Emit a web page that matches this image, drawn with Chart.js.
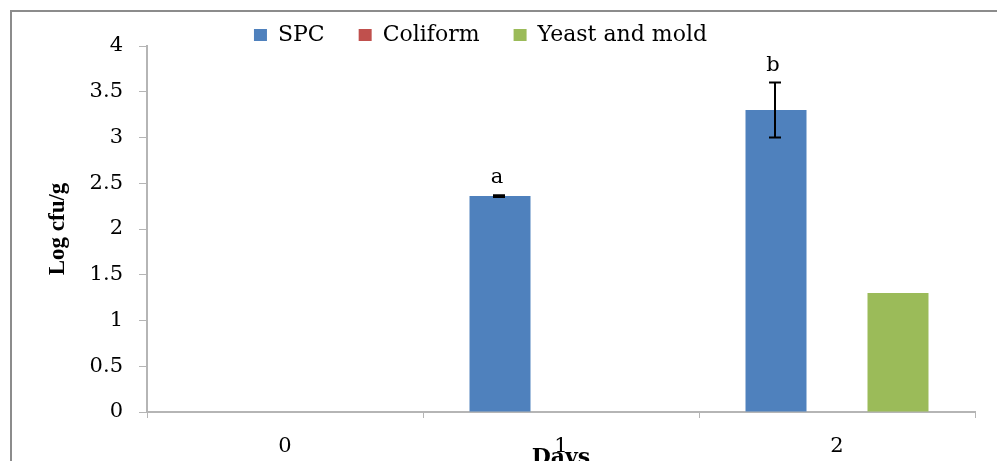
<!DOCTYPE html>
<html>
<head>
<meta charset="utf-8">
<script src="https://cdn.jsdelivr.net/npm/chart.js@4/dist/chart.umd.min.js"></script>
<style>
  html, body { margin: 0; padding: 0; background: #ffffff; overflow: hidden; }
  #wrap { width: 997px; height: 461px; position: relative; overflow: hidden; }
  #c { display: block; position: absolute; left: 0; top: 0; }
  #frame { position: absolute; left: 10px; top: 10px; width: 1100px; height: 600px;
           border-left: 2px solid #8c8c8c; border-top: 2px solid #8c8c8c; pointer-events: none; }
</style>
</head>
<body>
<div id="wrap"><canvas id="c" width="997" height="461"></canvas><div id="frame"></div></div>
<script>
// ---- data ----
const categories = ['0', '1', '2'];
const seriesNames = ['SPC', 'Coliform', 'Yeast and mold'];
const spcValues = [0, 2.36, 3.3];
const coliformValues = [0, 0, 0];
const yeastValues = [0, 0, 1.3];
const spcErrors = [0, 0.01, 0.3];
const spcLetters = ['', 'a', 'b'];
const yTicks = [0, 0.5, 1, 1.5, 2, 2.5, 3, 3.5, 4];
const yTickLabels = ['0', '0.5', '1', '1.5', '2', '2.5', '3', '3.5', '4'];
const yTitle = 'Log cfu/g';
const xTitle = 'Days';

const SERIF = '"DejaVu Serif", "Liberation Serif", serif';

const legendFix = {
  id: 'legendFix',
  beforeLayout(chart) {
    const lg = chart.legend;
    if (lg && !lg._patched) {
      const f = lg.fit.bind(lg);
      lg.fit = function () { f(); this.height = 46; };
      lg._patched = true;
    }
  },
  afterLayout(chart) {
    const lg = chart.legend;
    if (lg) {
      lg.left -= 7; lg.right -= 7;
      lg.top -= 10;
    }
  }
};

const errorBars = {
  id: 'errorBars',
  afterDatasetsDraw(chart) {
    const ctx = chart.ctx;
    const meta = chart.getDatasetMeta(0);
    const ys = chart.scales.y;
    ctx.save();
    ctx.strokeStyle = '#000000';
    ctx.fillStyle = '#000000';
    ctx.lineWidth = 2;
    meta.data.forEach((bar, i) => {
      const v = spcValues[i];
      const e = spcErrors[i];
      if (e > 0) {
        const x = Math.round(bar.x) - 1;
        const yTop = ys.getPixelForValue(v + e);
        const yBot = ys.getPixelForValue(v - e);
        ctx.beginPath();
        ctx.moveTo(x, yTop); ctx.lineTo(x, yBot);
        ctx.moveTo(x - 6, yTop); ctx.lineTo(x + 6, yTop);
        ctx.moveTo(x - 6, yBot); ctx.lineTo(x + 6, yBot);
        ctx.stroke();
        if (spcLetters[i]) {
          ctx.font = '21px ' + SERIF;
          ctx.textAlign = 'center';
          ctx.textBaseline = 'alphabetic';
          ctx.fillText(spcLetters[i], x - 2, yTop - 12);
        }
      }
    });
    ctx.restore();
  }
};

new Chart(document.getElementById('c'), {
  type: 'bar',
  data: {
    labels: categories,
    datasets: [
      { label: seriesNames[0], data: spcValues, backgroundColor: '#4F81BD' },
      { label: seriesNames[1], data: coliformValues, backgroundColor: '#C0504D' },
      { label: seriesNames[2], data: yeastValues, backgroundColor: '#9BBB59' }
    ]
  },
  options: {
    responsive: false,
    animation: false,
    devicePixelRatio: 1,
    layout: { padding: { left: 0, right: 22, top: 0, bottom: 0 } },
    datasets: { bar: { categoryPercentage: 0.663, barPercentage: 1.0, borderWidth: 0 } },
    plugins: {
      legend: {
        position: 'top',
        labels: {
          font: { family: SERIF, size: 22 },
          color: '#000000',
          boxWidth: 13,
          boxHeight: 12,
          padding: 34
        }
      },
      tooltip: { enabled: false }
    },
    scales: {
      x: {
        afterFit(s) { s.height = 49; },
        grid: { display: true, drawOnChartArea: false, drawTicks: true, tickLength: 6, color: '#b5b5b5', offset: true },
        border: { display: true, color: '#b5b5b5', width: 2 },
        ticks: { font: { family: SERIF, size: 21 }, color: '#000000', padding: 16, maxRotation: 0 },
        title: {
          display: true, text: xTitle, color: '#000000',
          font: { family: SERIF, size: 22, weight: 'bold' },
          padding: { top: 0, bottom: -10 }
        }
      },
      y: {
        min: 0, max: 4,
        afterFit(s) { s.width = 147; },
        afterBuildTicks(s) { s.ticks = yTicks.map(v => ({ value: v })); },
        grid: { display: true, drawOnChartArea: false, drawTicks: true, tickLength: 8, color: '#b5b5b5' },
        border: { display: true, color: '#b5b5b5', width: 2 },
        ticks: {
          font: { family: SERIF, size: 21 }, color: '#000000', padding: 16,
          callback(value) { const k = yTicks.indexOf(value); return k >= 0 ? yTickLabels[k] : ''; }
        },
        title: {
          display: true, text: yTitle, color: '#000000',
          font: { family: '"Liberation Serif", serif', size: 23, weight: 'bold' },
          padding: { top: 44, bottom: 0 }
        }
      }
    }
  },
  plugins: [legendFix, errorBars]
});
</script>
</body>
</html>
